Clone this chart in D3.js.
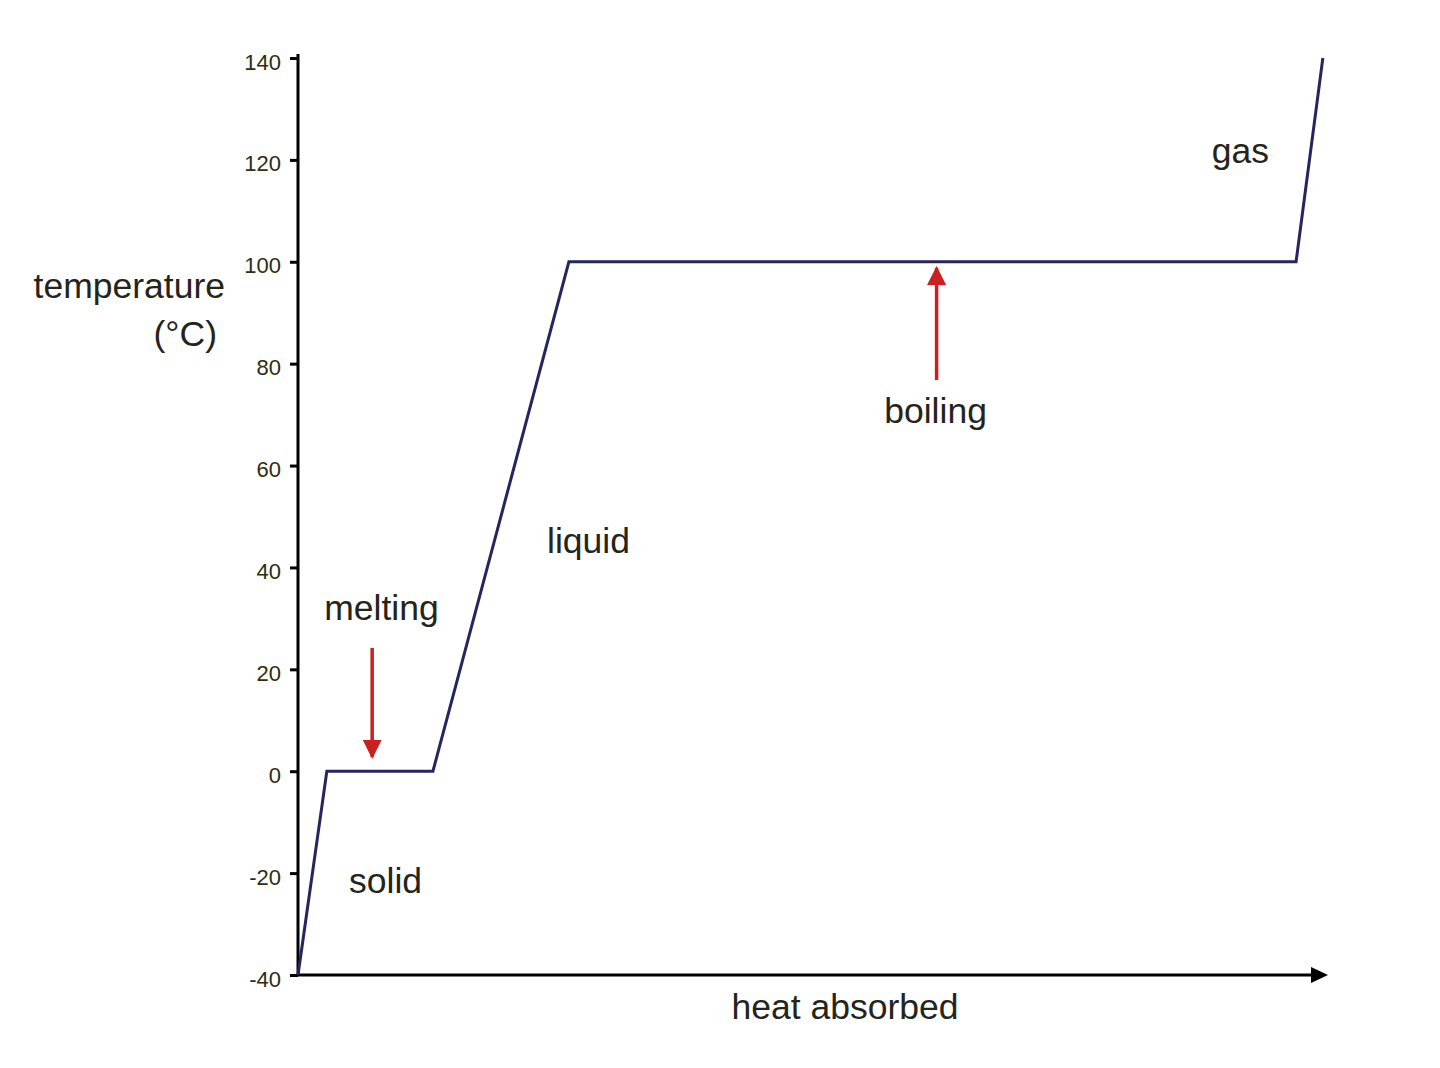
<!DOCTYPE html>
<html>
<head>
<meta charset="utf-8">
<script src="https://cdn.jsdelivr.net/npm/d3@7"></script>
<style>
  html, body { margin: 0; padding: 0; background: #ffffff; }
  svg { display: block; }
</style>
</head>
<body>
<svg id="chart" width="1440" height="1068"></svg>
<script>
// ---- data ----
const heat = [0, 2.8, 13.1, 26.3, 96.9, 99.5];          // heat absorbed (arbitrary units)
const temperature = [-40, 0, 0, 100, 100, 140];          // °C
const yTicks = [-40, -20, 0, 20, 40, 60, 80, 100, 120, 140];
const phaseLabels = ["solid", "melting", "liquid", "boiling", "gas"];
const phaseHeat = [8.5, 8.1, 28.2, 61.9, 91.5];
const phaseTemp = [-23.9, 29.7, 42.8, 68.4, 119.4];
const arrowNames = ["melting", "boiling"];
const arrowHeat = [7.2, 62.0];
const arrowFrom = [24.2, 76.8];
const arrowTo = [2.8, 98.8];

// ---- layout ----
const svg = d3.select("#chart");
const x = d3.scaleLinear().domain([0, 100]).range([298, 1328]);
const y = d3.scaleLinear().domain([-40, 140]).range([975, 58]);
const font = "'Liberation Sans', Arial, sans-serif";
const textColor = "#24241a";
const labelSize = 35.5;

svg.append("defs").append("marker")
  .attr("id", "redhead").attr("viewBox", "0 0 10 10")
  .attr("refX", 9).attr("refY", 5)
  .attr("markerWidth", 5.5).attr("markerHeight", 5.5)
  .attr("markerUnits", "strokeWidth")
  .attr("orient", "auto")
  .append("path").attr("d", "M0,0 L10,5 L0,10 Z").attr("fill", "#cc2020");

// y axis
const yAxis = d3.axisLeft(y).tickValues(yTicks).tickSize(8).tickPadding(9).tickFormat(d3.format("d"));
const gy = svg.append("g").attr("transform", `translate(${x(0)},0)`).call(yAxis);
gy.select(".domain").attr("stroke", "#000").attr("stroke-width", 3).attr("d", `M0,${y(140) - 4}V${y(-40)}`);
gy.selectAll(".tick line").attr("stroke", "#000").attr("stroke-width", 3);
gy.selectAll(".tick text")
  .attr("font-family", font).attr("font-size", 22).attr("fill", "#2e2e12")
  .attr("dy", "0.5em").text(d => d < 0 ? "-" + Math.abs(d) : d);

// x axis (arrow)
const xEnd = x(100);
svg.append("line")
  .attr("x1", x(0) - 1).attr("x2", xEnd - 12)
  .attr("y1", y(-40)).attr("y2", y(-40))
  .attr("stroke", "#000").attr("stroke-width", 3);
svg.append("path")
  .attr("d", `M${xEnd},${y(-40)} L${xEnd - 17},${y(-40) - 8} L${xEnd - 17},${y(-40) + 8} Z`)
  .attr("fill", "#000");

// heating curve
const pts = heat.map((h, i) => [h, temperature[i]]);
svg.append("path")
  .datum(pts)
  .attr("d", d3.line().x(d => x(d[0])).y(d => y(d[1])))
  .attr("fill", "none").attr("stroke", "#26265e").attr("stroke-width", 3)
  .attr("stroke-linejoin", "miter");

// red arrows
arrowNames.forEach((n, i) => {
  svg.append("line")
    .attr("x1", x(arrowHeat[i])).attr("x2", x(arrowHeat[i]))
    .attr("y1", y(arrowFrom[i])).attr("y2", y(arrowTo[i]))
    .attr("stroke", "#cc2020").attr("stroke-width", 3.5)
    .attr("marker-end", "url(#redhead)");
});

// phase labels
phaseLabels.forEach((t, i) => {
  svg.append("text")
    .attr("x", x(phaseHeat[i])).attr("y", y(phaseTemp[i]))
    .attr("text-anchor", "middle")
    .attr("font-family", font).attr("font-size", labelSize).attr("fill", textColor)
    .text(t);
});

// axis titles
svg.append("text").attr("x", 225).attr("y", 298).attr("text-anchor", "end")
  .attr("font-family", font).attr("font-size", labelSize).attr("fill", textColor).text("temperature");
svg.append("text").attr("x", 217).attr("y", 346).attr("text-anchor", "end")
  .attr("font-family", font).attr("font-size", labelSize).attr("fill", textColor).text("(°C)");
svg.append("text").attr("x", 845).attr("y", 1019).attr("text-anchor", "middle")
  .attr("font-family", font).attr("font-size", labelSize).attr("fill", textColor).text("heat absorbed");
</script>
</body>
</html>
